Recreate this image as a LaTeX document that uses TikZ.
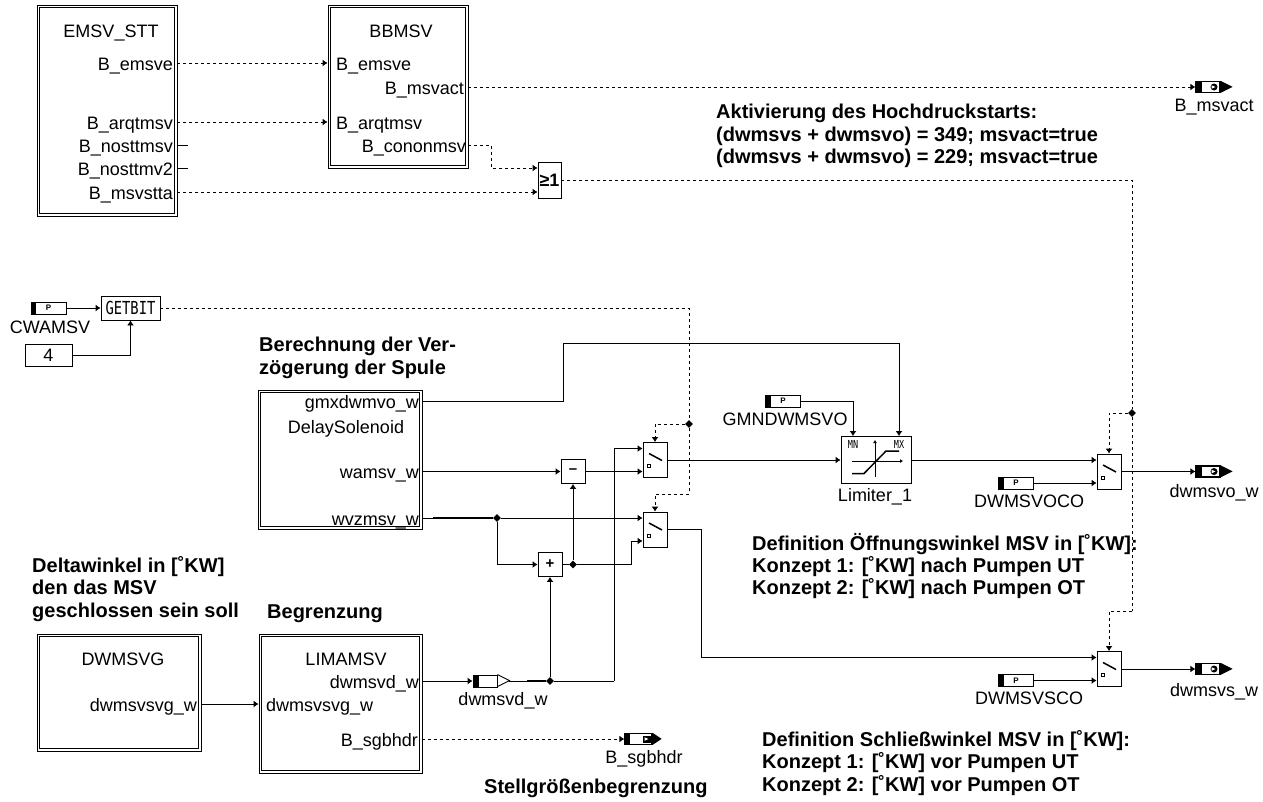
\documentclass[tikz,border=0pt]{standalone}
\usepackage{graphicx}
\usepackage{fontspec}
\setmainfont{Liberation Sans}
\newfontfamily\pixfont{DejaVu Sans Mono}
\usetikzlibrary{arrows.meta,shapes.geometric}
\tikzset{
    >={Latex[length=5pt,width=7pt]},
    wire/.style={line width=0.9pt},
    sig/.style={line width=0.9pt,dash pattern=on 3pt off 3pt},
    block/.style={draw,line width=0.9pt,inner sep=0pt,
        append after command={\pgfextra{\draw[line width=0.7pt] ([xshift=3pt,yshift=-3pt]\tikzlastnode.north west) rectangle ([xshift=-3pt,yshift=3pt]\tikzlastnode.south east);}}},
    txt/.style={inner sep=0pt,font=\fontsize{18}{18}\selectfont,text height=14pt,text depth=0pt},
    bold/.style={inner sep=0pt,anchor=west,align=left,font=\fontsize{20}{22.3}\selectfont\bfseries},
    opbox/.style={draw,line width=0.9pt,minimum width=24pt,minimum height=24pt,inner sep=0pt,font=\fontsize{15}{15}\selectfont\bfseries},
    junc/.style={diamond,fill=black,minimum width=8pt,minimum height=8pt,inner sep=0pt},
    paramtag/.style={draw,line width=0.9pt,minimum width=35pt,minimum height=12pt,inner sep=0pt,font=\fontsize{8}{8}\selectfont\bfseries,
        path picture={\fill (path picture bounding box.north west) rectangle ([xshift=5pt]path picture bounding box.south west);}},
    tagbody/.style={draw,line width=1.3pt,minimum height=11pt,inner sep=0pt},
    outtag/.style={tagbody,minimum width=24pt,
        path picture={\fill (path picture bounding box.north west) rectangle ([xshift=6pt]path picture bounding box.south west);
            \fill ([xshift=6pt]path picture bounding box.center) circle[radius=3.5pt];
            \fill[white] ([xshift=3.5pt]path picture bounding box.center) -- ++(0,1.8) -- ++(4,-1.8) -- ++(-4,-1.8) -- cycle;},
        append after command={\pgfextra{\fill (\tikzlastnode.north east) -- ++(12,6) -- ++(-12,6) -- cycle;}}},
    squaretag/.style={tagbody,minimum width=27pt,
        path picture={\fill (path picture bounding box.north west) rectangle ([xshift=5pt]path picture bounding box.south west);
            \fill ([xshift=4pt,yshift=-3.5pt]path picture bounding box.center) rectangle +(8,-7);
            \fill[white] ([xshift=6pt]path picture bounding box.center) -- ++(0,1.8) -- ++(4,-1.8) -- ++(-4,-1.8) -- cycle;},
        append after command={\pgfextra{\fill (\tikzlastnode.north east) -- ++(9,6) -- ++(-9,6) -- cycle;}}},
    localtag/.style={draw,line width=0.9pt,minimum width=24pt,minimum height=12pt,inner sep=0pt,
        path picture={\fill (path picture bounding box.north west) rectangle ([xshift=6pt]path picture bounding box.south west);},
        append after command={\pgfextra{\draw[line width=0.9pt] (\tikzlastnode.north east) -- ++(12,6) -- ++(-12,6);}}},
    switchbox/.style={draw,line width=0.9pt,minimum width=24pt,minimum height=35pt,inner sep=0pt,
        path picture={\draw[line width=1.5pt] ([xshift=-6pt,yshift=6.5pt]path picture bounding box.center) -- ++(13,7);
            \draw[line width=0.8pt] ([xshift=-7.5pt,yshift=-7.5pt]path picture bounding box.center) rectangle +(3,-3);}},
}
\begin{document}
\begin{tikzpicture}[x=1pt,y=-1pt]
    \useasboundingbox (0,0) rectangle (1263,801);
    \node[block,minimum width=140pt,minimum height=211pt] (emsv) at (107,110.5) {};
    \node[block,minimum width=140pt,minimum height=163pt] (bbmsv) at (398,86.5) {};
    \node[block,minimum width=164pt,minimum height=139pt] (delay) at (340,459.5) {};
    \node[block,minimum width=164pt,minimum height=117pt] (dwmsvg) at (119,692.5) {};
    \node[block,minimum width=163pt,minimum height=139pt] (limamsv) at (340.5,703.5) {};
    \node[txt] (emsvname) at (111,30) {EMSV\_STT};
    \node[txt] (bbmsvname) at (401,30) {BBMSV};
    \node[txt] (delayname) at (346,426) {DelaySolenoid};
    \node[txt] (dwmsvgname) at (123,658) {DWMSVG};
    \node[txt] (limamsvname) at (346,658) {LIMAMSV};
    \node[txt,anchor=east] (emsve) at (173,63) {B\_emsve};
    \node[txt,anchor=east] (arqtmsv) at (173,122) {B\_arqtmsv};
    \node[txt,anchor=east] (nosttmsv) at (173,145) {B\_nosttmsv};
    \node[txt,anchor=east] (nosttmv) at (173,168) {B\_nosttmv2};
    \node[txt,anchor=east] (msvstta) at (173,192) {B\_msvstta};
    \node[txt,anchor=west] (inemsve) at (336,63) {B\_emsve};
    \node[txt,anchor=west] (inarqtmsv) at (336,122) {B\_arqtmsv};
    \node[txt,anchor=east] (msvact) at (464,87) {B\_msvact};
    \node[txt,anchor=east] (cononmsv) at (466,145) {B\_cononmsv};
    \node[txt,anchor=east] (gmxdwmvo) at (419,401) {gmxdwmvo\_w};
    \node[txt,anchor=east] (wamsv) at (419,471.5) {wamsv\_w};
    \node[txt,anchor=east] (wvzmsv) at (419,518) {wvzmsv\_w};
    \node[txt,anchor=east] (dwmsvsvg) at (197,704) {dwmsvsvg\_w};
    \node[txt,anchor=west] (indwmsvsvg) at (266,704) {dwmsvsvg\_w};
    \node[txt,anchor=east] (dwmsvd) at (419,681) {dwmsvd\_w};
    \node[txt,anchor=east] (sgbhdr) at (418,739) {B\_sgbhdr};
    \node[opbox,minimum width=23pt,minimum height=36pt,font=\fontsize{18}{18}\selectfont\bfseries] (orgate) at (549.5,180) {≥1};
    \node[opbox,minimum width=59pt] (getbit) at (130.5,308) {\pixfont\fontsize{13.8}{14}\selectfont\mdseries\scalebox{1}[1.3]{GETBIT}};
    \node[draw,line width=0.9pt,minimum width=47pt,minimum height=22pt,inner sep=0pt,font=\fontsize{18}{18}\selectfont] (four) at (48.5,355) {4};
    \node[paramtag] (cwamsv) at (48.5,308) {P};
    \node[txt] (cwamsvname) at (50,326) {CWAMSV};
    \node[paramtag] (gmndwmsvo) at (783,401) {P};
    \node[txt] (gmndwmsvoname) at (785,418) {GMNDWMSVO};
    \node[paramtag] (dwmsvoco) at (1016,483) {P};
    \node[txt] (dwmsvoconame) at (1029,500) {DWMSVOCO};
    \node[paramtag] (dwmsvsco) at (1016,680.5) {P};
    \node[txt] (dwmsvsconame) at (1029,697) {DWMSVSCO};
    \node[opbox] (minus) at (573,471.5) {\raisebox{1pt}{--}};
    \node[opbox] (plus) at (550,564.5) {+};
    \node[switchbox] (sw1) at (655,460) {};
    \node[switchbox] (sw2) at (655,529.5) {};
    \node[switchbox] (sw3) at (1109,471.5) {};
    \node[switchbox] (sw4) at (1109,669) {};
    \node[draw,line width=0.9pt,minimum width=70pt,minimum height=47pt,inner sep=0pt] (limiter) at (876,460) {};
    \node[font=\pixfont\fontsize{8.5}{9}\selectfont,inner sep=0pt] (mnlabel) at (853,444) {\scalebox{1}[1.3]{MN}};
    \node[font=\pixfont\fontsize{8.5}{9}\selectfont,inner sep=0pt] (mxlabel) at (899,444) {\scalebox{1}[1.3]{MX}};
    \draw[wire,-{Latex[length=3pt,width=4pt]}] (875,477) -- (875,440);
    \draw[wire,-{Latex[length=3pt,width=4pt]}] (852,461) -- (903,461);
    \draw[line width=1.5pt] (852,473.5) -- (864,473.5) -- (886,451) -- (899,451);
    \node[txt] (limitername) at (875,494) {Limiter\_1};
    \node[outtag] (msvactout) at (1208,87) {};
    \node[txt] (msvactname) at (1214,104) {B\_msvact};
    \node[outtag] (dwmsvoout) at (1208,471.5) {};
    \node[txt] (dwmsvoname) at (1214,490) {dwmsvo\_w};
    \node[outtag] (dwmsvsout) at (1208,669) {};
    \node[txt] (dwmsvsname) at (1214,689) {dwmsvs\_w};
    \node[squaretag] (sgbhdrout) at (638.5,739) {};
    \node[txt] (sgbhdrname) at (644,756) {B\_sgbhdr};
    \node[localtag] (dwmsvdtag) at (485,681) {};
    \node[txt] (dwmsvdname) at (503,698) {dwmsvd\_w};
    \node[junc] (j1) at (689,424) {};
    \node[junc] (j2) at (1132,413) {};
    \node[junc] (j3) at (497,518) {};
    \node[junc] (j4) at (573,564.5) {};
    \node[junc] (j5) at (550,681) {};
    \coordinate (stub1) at (188,145);
    \coordinate (stub2) at (188,168);
    \coordinate (bend1) at (491,145);
    \coordinate (bend2) at (689,494);
    \coordinate (bend3) at (1132,611);
    \coordinate (bend4) at (563,343);
    \coordinate (bend5) at (631,564.5);
    \coordinate (bend6) at (614,681);
    \coordinate (bend7) at (701,657.5);
    \coordinate (heavy1) at (433,518);
    \coordinate (heavy2) at (527,681);
    \draw[sig,->] (emsv.east |- emsve) -- (bbmsv.west |- inemsve);
    \draw[sig,->] (emsv.east |- arqtmsv) -- (bbmsv.west |- inarqtmsv);
    \draw[wire] (emsv.east |- nosttmsv) -- (stub1);
    \draw[wire] (emsv.east |- nosttmv) -- (stub2);
    \draw[sig,->] (emsv.east |- msvstta) -- ([yshift=-12pt]orgate.west);
    \draw[sig,->] (bbmsv.east |- cononmsv) -- (bend1) |- ([yshift=12pt]orgate.west);
    \draw[sig,->] (bbmsv.east |- msvact) -- (msvactout.west);
    \draw[sig] (orgate.east) -| (j2);
    \draw[sig] (j2) -- (bend3);
    \draw[sig,->] (bend3) -| (sw4.north);
    \draw[sig,->] (j2) -| (sw3.north);
    \draw[wire,->] (cwamsv.east) -- (getbit.west);
    \draw[wire,->] (four.east) -| (getbit.south);
    \draw[sig] (getbit.east) -| (j1);
    \draw[sig,->] (j1) -| (sw1.north);
    \draw[sig,->] (j1) -- (bend2) -| (sw2.north);
    \draw[wire] (delay.east |- gmxdwmvo) -| (bend4);
    \draw[wire,->] (bend4) -| ([xshift=23pt]limiter.north);
    \draw[wire,->] (gmndwmsvo.east) -| ([xshift=-23pt]limiter.north);
    \draw[wire,->] (delay.east |- wamsv) -- (minus.west);
    \draw[wire,->] (minus.east) -- ([yshift=-11.5pt]sw1.west);
    \draw[wire] (delay.east |- wvzmsv) -- (j3);
    \draw[line width=1.6pt] (heavy1) -- (j3);
    \draw[wire,->] (j3) -- ([yshift=11.5pt]sw2.west);
    \draw[wire,->] (j3) |- (plus.west);
    \draw[wire] (plus.east) -- (j4);
    \draw[wire,->] (j4) -- (minus.south);
    \draw[wire] (j4) -- (bend5);
    \draw[wire,->] (bend5) |- ([yshift=-11.5pt]sw2.west);
    \draw[wire,->] (delay.east |- dwmsvd) -- (dwmsvdtag.west);
    \draw[wire] (dwmsvdtag.east) ++(12,0) -- (j5);
    \draw[line width=1.6pt] (heavy2) -- (j5);
    \draw[wire,->] (j5) -- (plus.south);
    \draw[wire] (j5) -- (bend6);
    \draw[wire,->] (bend6) |- ([yshift=11.5pt]sw1.west);
    \draw[wire,->] (sw1.east) -- (limiter.west);
    \draw[wire,->] (limiter.east) -- ([yshift=11.5pt]sw3.west);
    \draw[wire] (sw2.east) -| (bend7);
    \draw[wire,->] (bend7) -- ([yshift=11.5pt]sw4.west);
    \draw[wire,->] (dwmsvoco.east) -- ([yshift=-11.5pt]sw3.west);
    \draw[wire,->] (dwmsvsco.east) -- ([yshift=-11.5pt]sw4.west);
    \draw[wire,->] (sw3.east) -- (dwmsvoout.west);
    \draw[wire,->] (sw4.east) -- (dwmsvsout.west);
    \draw[wire,->] (dwmsvg.east |- dwmsvsvg) -- (limamsv.west |- indwmsvsvg);
    \draw[sig,->] (limamsv.east |- sgbhdr) -- (sgbhdrout.west);
    \node[bold] (hochdruck) at (716,136) {Aktivierung des Hochdruckstarts:\\(dwmsvs + dwmsvo) = 349; msvact=true\\(dwmsvs + dwmsvo) = 229; msvact=true};
    \node[bold] (verzoegerung) at (259,358) {Berechnung der Ver-\\zögerung der Spule};
    \node[bold] (deltawinkel) at (32,589) {Deltawinkel in [˚KW]\\den das MSV\\geschlossen sein soll};
    \node[bold] (begrenzung) at (267,614) {Begrenzung};
    \node[bold] (oeffnung) at (752,566) {Definition Öffnungswinkel MSV in [˚KW]:\\Konzept 1: [˚KW] nach Pumpen UT\\Konzept 2: [˚KW] nach Pumpen OT};
    \node[bold] (schliess) at (762,763) {Definition Schließwinkel MSV in [˚KW]:\\Konzept 1: [˚KW] vor Pumpen UT\\Konzept 2: [˚KW] vor Pumpen OT};
    \node[bold] (stellgroesse) at (484,788) {Stellgrößenbegrenzung};
\end{tikzpicture}
\end{document}
